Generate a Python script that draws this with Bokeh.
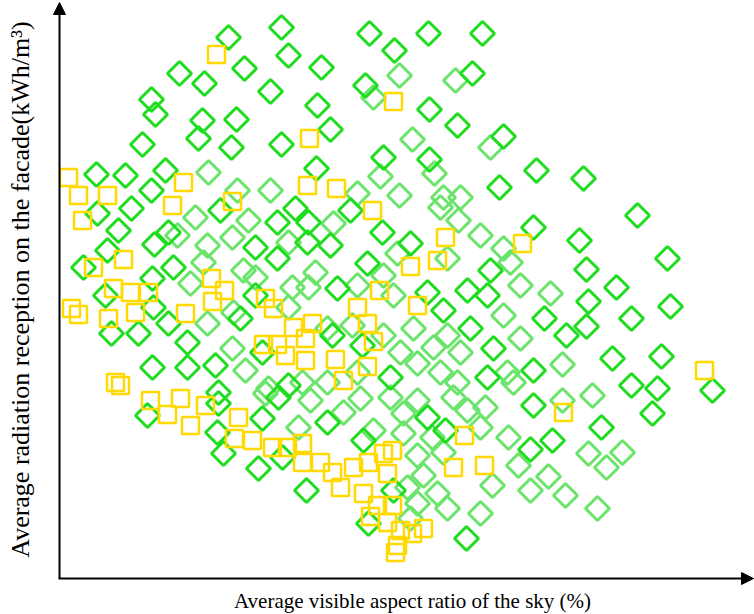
import math
from bokeh.plotting import figure
from bokeh.models import Range1d, Arrow, NormalHead, Label
from bokeh.embed import file_html
from bokeh.resources import INLINE

# Values (x: sky visible ratio units, y: radiation units)
dark_x = [221,168,228,184,119,144,210,91,95,142,176,138,82,171,221,36,65,105,91,
          309,368,422,334,261,412,305,257,369,397,270,443,323,369,256,476,439,523,
          577,519,607,526,556,528,610,484,571,526,506,552,601,571,597,652,592,541,492,
          473,470,406,246,303,267,367,385,308,333,87,158,157,202,218,163,198,222,
          37,71,58,94,108,47,23,113,92,195,217,160,217,45,180,195,235,51,78,108,93,
          127,92,127,155,202,228,158,473,270,247,307,277,350,322,367,407,427,430,383,
          248,290,410,433,302,330,427,473,272]
dark_y = [553,543,525,512,507,497,489,481,466,460,461,442,436,433,436,406,405,410,390,
          547,547,547,530,513,507,495,475,471,455,451,444,423,421,412,410,393,402,
          365,340,322,311,293,279,274,262,262,254,245,222,224,195,192,190,167,153,140,
          175,131,42,90,140,158,163,150,57,90,165,177,148,162,183,127,112,123,
          367,372,350,336,348,330,313,313,302,333,322,370,358,285,262,285,372,247,247,257,273,
          238,213,213,215,228,195,188,353,335,338,317,292,337,348,288,290,285,310,270,
          358,370,252,232,235,203,203,210,245]

light_x = [148,177,210,339,395,313,352,430,374,320,339,297,383,400,490,502,532,502,
           528,562,546,488,505,537,448,458,432,470,420,250,283,300,330,343,357,393,407,
           425,420,343,372,357,383,363,347,377,387,357,350,313,205,238,135,117,147,172,
           188,130,143,183,195,232,228,147,173,172,185,208,242,228,380,398,420,443,337,
           387,323,460,450,297,273,255,333,292,323,353,387,443,460,267,340,373,400,357,
           380,447,453,397,297,267,248]
light_y = [408,390,390,505,500,483,441,433,407,404,385,387,383,383,287,216,185,180,
           127,128,113,104,85,72,143,115,95,90,67,180,168,182,183,167,180,183,170,
           173,153,147,143,125,128,105,93,87,72,77,62,150,187,153,363,345,335,343,
           360,297,318,310,303,293,338,257,268,232,210,192,198,273,373,360,345,332,327,
           322,305,295,318,295,357,308,285,255,245,252,245,265,242,252,228,233,228,217,
           208,208,198,198,208,198,293]

yellow_x = [156,333,249,8,18,47,123,172,247,276,112,22,33,63,53,70,88,151,164,152,
            11,18,48,75,125,205,213,233,203,217,225,245,55,60,90,120,145,107,130,178,
            174,192,212,227,242,242,312,385,377,350,462,319,297,357,252,307,245,313,
            275,307,283,644,503,404,393,424,260,272,293,308,323,332,327,280,303,317,
            332,310,327,340,352,363,337,335]
yellow_y = [526,479,442,403,385,385,398,379,395,392,375,360,313,321,292,288,288,302,290,279,
            272,266,262,268,267,282,272,253,236,236,225,220,198,195,180,182,175,166,155,163,
            142,140,133,133,137,118,370,343,320,314,337,290,273,275,257,257,242,239,
            221,214,200,210,168,145,113,115,118,108,113,118,127,130,107,93,87,75,
            75,64,58,50,47,52,35,28]

DARK = "#1edc1e"
LIGHT = "#6ae46a"
YELLOW = "#ffd900"

p = figure(width=754, height=614, x_range=Range1d(-60, 694), y_range=Range1d(-34, 580),
           x_axis_type=None, y_axis_type=None, min_border=0, outline_line_color=None,
           toolbar_location=None, output_backend="svg")
p.grid.visible = False

p.scatter(x=light_x, y=light_y, marker="square", angle=math.pi / 4, size=17,
          fill_color=None, line_color=LIGHT, line_width=3)
p.scatter(x=dark_x, y=dark_y, marker="square", angle=math.pi / 4, size=17,
          fill_color=None, line_color=DARK, line_width=3)
p.scatter(x=yellow_x, y=yellow_y, marker="square", size=17,
          fill_color=None, line_color=YELLOW, line_width=2.5)

# axes with arrow heads
p.add_layout(Arrow(end=NormalHead(size=12, fill_color="black", line_color="black"),
                   x_start=-1, y_start=2, x_end=-1, y_end=578, line_width=2, line_color="black"))
p.add_layout(Arrow(end=NormalHead(size=12, fill_color="black", line_color="black"),
                   x_start=-2, y_start=2, x_end=693, y_end=2, line_width=2, line_color="black"))

p.add_layout(Label(x=352, y=-20, text="Average visible aspect ratio of the sky (%)",
                   text_font="Liberation Serif", text_font_size="21px", text_color="black",
                   text_align="center", text_baseline="middle"))
p.add_layout(Label(x=-40, y=291, text="Average radiation reception on the facade(kWh/m³)",
                   angle=math.pi / 2, text_font="Liberation Serif", text_font_size="26px",
                   text_color="black", text_align="center", text_baseline="middle"))

open("out.html", "w").write(file_html(p, INLINE))
